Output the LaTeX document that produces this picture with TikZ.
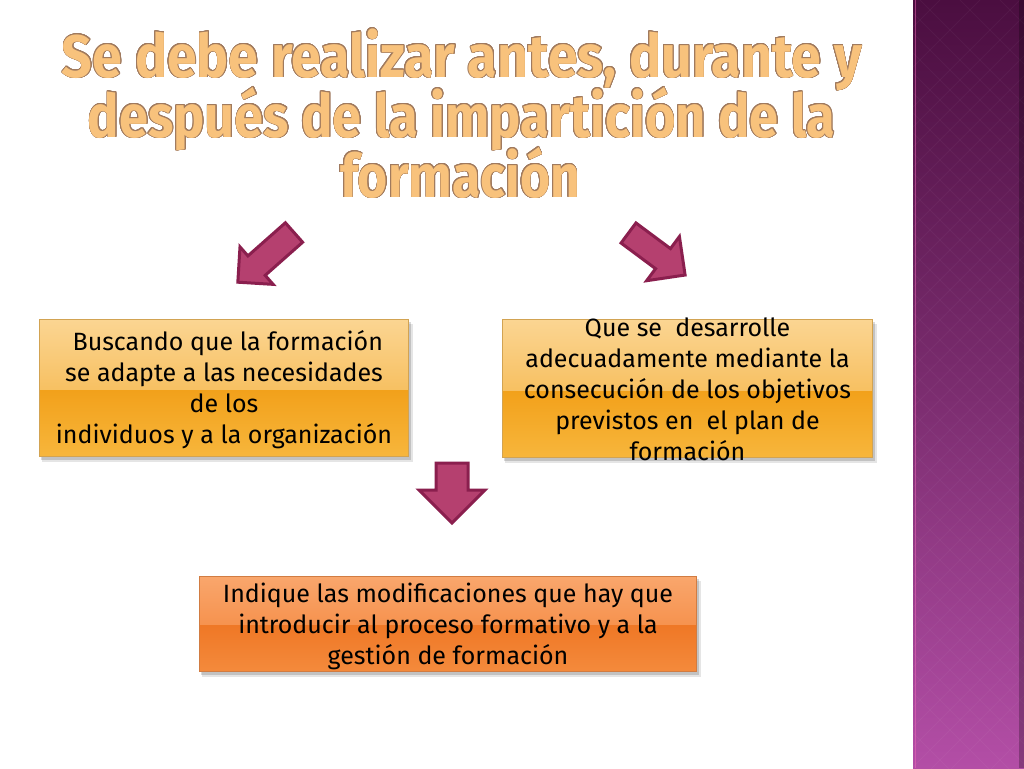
\documentclass[tikz,border=0pt]{standalone}
\usepackage{fontspec}
\setmainfont{Fira Sans}
\usepackage[copies]{contour}
\usetikzlibrary{calc}
\definecolor{panelTop}{HTML}{4B0E40}
\definecolor{panelMid}{HTML}{7A2C6E}
\definecolor{panelBot}{HTML}{B34EA6}
\definecolor{titleFill}{HTML}{F8C27C}
\definecolor{titleEdge}{HTML}{A07A5E}
\definecolor{arrowFill}{HTML}{B5406F}
\definecolor{arrowEdge}{HTML}{8A1F4E}
\definecolor{yA}{HTML}{FBD592}
\definecolor{yB}{HTML}{F7C061}
\definecolor{yC}{HTML}{F2A11B}
\definecolor{yD}{HTML}{F7B63C}
\definecolor{oA}{HTML}{F9A66C}
\definecolor{oB}{HTML}{F6924E}
\definecolor{oC}{HTML}{EF7826}
\definecolor{oD}{HTML}{F48A3C}
\newcommand\glossbox[5]{%
  \fill[black,opacity=.10] ($(#1.north west)+(2,4)$) rectangle ($(#1.south east)+(5,6)$);
  \fill[black,opacity=.15] ($(#1.north west)+(1,2)$) rectangle ($(#1.south east)+(2.5,3.5)$);
  \shade[top color=#2,bottom color=#3] (#1.north west) rectangle ($(#1.north east)!.52!(#1.south east)$);
  \shade[top color=#4,bottom color=#5] ($(#1.north west)!.52!(#1.south west)$) rectangle (#1.south east);
  \draw[#3!85!black,line width=.8] (#1.north west) rectangle (#1.south east);
}
\newcommand\blockarrow[6]{%
  \begin{scope}[shift={(#1,#2)},rotate=#3]
    \filldraw[blockarrowstyle] (0,#5) -- ({#4-#6},#5) -- ({#4-#6},#6) -- (#4,0)
      -- ({#4-#6},-#6) -- ({#4-#6},-#5) -- (0,-#5) -- cycle;
  \end{scope}}
\contourlength{0.9pt}
\newcommand\outlined[2]{\resizebox{#1}{\height}{\contour[20]{titleEdge}{#2}}}
\begin{document}
\begin{tikzpicture}[x=1pt,y=-1pt,
  boxframe/.style={inner sep=0pt,draw=none},
  bodytext/.style={align=center,font=\fontsize{25}{31}\selectfont,text=black,inner sep=0pt},
  titletext/.style={anchor=base,inner sep=0pt,font=\fontsize{60}{60}\selectfont\bfseries,text=titleFill},
  blockarrowstyle/.style={fill=arrowFill,draw=arrowEdge,line width=3pt,line join=miter}]
\useasboundingbox (0,0) rectangle (1024,768);
\fill[white] (0,0) rectangle (1024,768);
% side panel
\shade[top color=panelTop,bottom color=panelBot,middle color=panelMid] (913,0) rectangle (1024,768);
\begin{scope}
  \clip (913,0) rectangle (1024,768);
  \foreach \i in {0,...,20}{
    \draw[white,opacity=.04,line width=1pt] (900,{\i*40}) -- (1040,{\i*40+140});
    \draw[white,opacity=.04,line width=1pt] (1040,{\i*40}) -- (900,{\i*40+140});
    \draw[white,opacity=.04,line width=1pt] (900,{\i*40-140}) -- (1040,{\i*40});
    \draw[white,opacity=.04,line width=1pt] (1040,{\i*40-140}) -- (900,{\i*40});
  }
\end{scope}
\draw[magenta!60!white,opacity=.5,line width=1pt] (915.5,0) -- (915.5,768);
\fill[black,opacity=.25] (1019,0) rectangle (1024,768);
% title
\node[titletext] (t1) at (462,77) {\outlined{800pt}{Se debe realizar antes, durante y}};
\node[titletext] (t2) at (461.5,137) {\outlined{747pt}{después de la impartición de la}};
\node[titletext] (t3) at (460,197) {\outlined{240pt}{formación}};
% arrows
\blockarrow{294}{232.5}{221.5}{75}{13}{25}
\blockarrow{628.5}{233}{-36.6}{70.5}{12.5}{27.5}
\blockarrow{452}{463}{-90}{60}{16}{33}
% boxes
\node[boxframe,minimum width=368,minimum height=136] (b1) at (224,388) {};
\node[boxframe,minimum width=369,minimum height=137] (b2) at (687.5,388.5) {};
\node[boxframe,minimum width=496,minimum height=94] (b3) at (448,624) {};
\glossbox{b1}{yA}{yB}{yC}{yD}
\glossbox{b2}{yA}{yB}{yC}{yD}
\glossbox{b3}{oA}{oB}{oC}{oD}
\node[bodytext] (tx1) at ($(b1.center)+(0,1.5)$) {\hspace{0.3em}Buscando que la formación\\se adapte a las necesidades\\de los\\individuos y a la organización};
\node[bodytext] (tx2) at ($(b2.center)+(0,1)$) {Que se\ \ desarrolle\\adecuadamente mediante la\\consecución de los objetivos\\previstos en\ \ el plan de\\formación};
\node[bodytext] (tx3) at ($(b3.center)+(0,2)$) {Indique las modificaciones que hay que\\introducir al proceso formativo y a la\\gestión de formación};
\end{tikzpicture}
\end{document}
